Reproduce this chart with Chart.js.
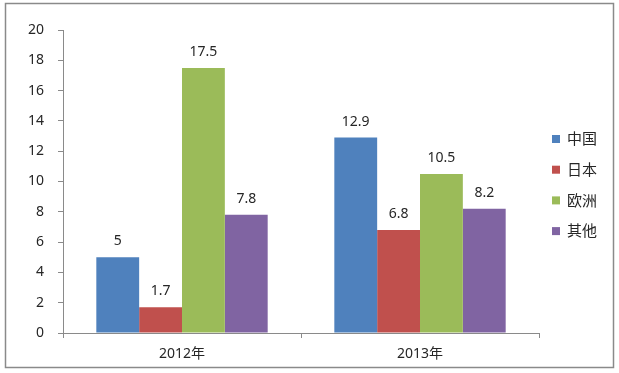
<!DOCTYPE html>
<html>
<head>
<meta charset="utf-8">
<script src="https://cdn.jsdelivr.net/npm/chart.js@4/dist/chart.umd.min.js"></script>
<style>
html,body{margin:0;padding:0;background:#fff;}
#wrap{position:relative;width:619px;height:373px;}
</style>
</head>
<body>
<div id="wrap"><canvas id="c" width="619" height="373"></canvas></div>
<script>
const categories = ["2012年", "2013年"];
const seriesNames = ["中国", "日本", "欧洲", "其他"];
const chinaValues = [5, 12.9];
const japanValues = [1.7, 6.8];
const europeValues = [17.5, 10.5];
const otherValues = [7.8, 8.2];
const seriesColors = ["#4F81BD", "#C0504D", "#9BBB59", "#8064A2"];
const yTicks = [0, 2, 4, 6, 8, 10, 12, 14, 16, 18, 20];

const allValues = [chinaValues, japanValues, europeValues, otherValues];
const FONT = '"Noto Sans", "Noto Sans CJK SC", sans-serif';

const datasets = seriesNames.map((n, i) => ({
  label: n,
  data: allValues[i],
  backgroundColor: seriesColors[i],
  borderWidth: 0,
  categoryPercentage: 0.72,
  barPercentage: 1.0
}));

const framePlugin = {
  id: 'frame',
  afterDraw(chart) {
    const ctx = chart.ctx;
    ctx.save();
    ctx.strokeStyle = '#8a8a8a';
    ctx.lineWidth = 1.5;
    ctx.strokeRect(5.5, 3.5, 608, 364);
    ctx.restore();
  }
};

const labelPlugin = {
  id: 'vlabels',
  afterDatasetsDraw(chart) {
    const ctx = chart.ctx;
    ctx.save();
    ctx.font = '14px ' + FONT;
    ctx.fillStyle = '#262626';
    ctx.textAlign = 'center';
    ctx.textBaseline = 'middle';
    chart.data.datasets.forEach((ds, i) => {
      const meta = chart.getDatasetMeta(i);
      meta.data.forEach((bar, j) => {
        ctx.fillText(String(ds.data[j]), bar.x, bar.y - 16);
      });
    });
    ctx.restore();
  }
};

const legendPlugin = {
  id: 'customLegend',
  afterDraw(chart) {
    const ctx = chart.ctx;
    ctx.save();
    ctx.font = '15px ' + FONT;
    ctx.textBaseline = 'middle';
    ctx.textAlign = 'left';
    const startY = 139, step = 30.7;
    chart.data.datasets.forEach((ds, i) => {
      const y = startY + i * step;
      ctx.fillStyle = ds.backgroundColor;
      ctx.fillRect(552, y - 4, 8, 8);
      ctx.fillStyle = '#262626';
      ctx.fillText(ds.label, 567, y + 1);
    });
    ctx.restore();
  }
};

new Chart(document.getElementById('c'), {
  type: 'bar',
  data: { labels: categories, datasets },
  options: {
    responsive: false,
    animation: false,
    devicePixelRatio: 1,
    layout: { padding: { left: 0, right: 80, top: 30, bottom: 0 } },
    plugins: { legend: { display: false }, tooltip: { enabled: false } },
    scales: {
      x: {
        grid: { display: true, drawOnChartArea: false, drawTicks: true, tickLength: 5, color: '#8a8a8a', offset: true },
        border: { display: true, color: '#8a8a8a', width: 1 },
        ticks: { font: { family: FONT, size: 14 }, color: '#262626', padding: 8 },
        afterFit(s) { s.height = 40; }
      },
      y: {
        min: 0, max: 20,
        afterBuildTicks(s) { s.ticks = yTicks.map(v => ({ value: v })); },
        grid: { display: true, drawOnChartArea: false, drawTicks: true, tickLength: 5, color: '#8a8a8a' },
        border: { display: true, color: '#8a8a8a', width: 1 },
        ticks: { font: { family: FONT, size: 14 }, color: '#262626', padding: 14 },
        afterFit(s) { s.width = 63; }
      }
    }
  },
  plugins: [framePlugin, labelPlugin, legendPlugin]
});
</script>
</body>
</html>
